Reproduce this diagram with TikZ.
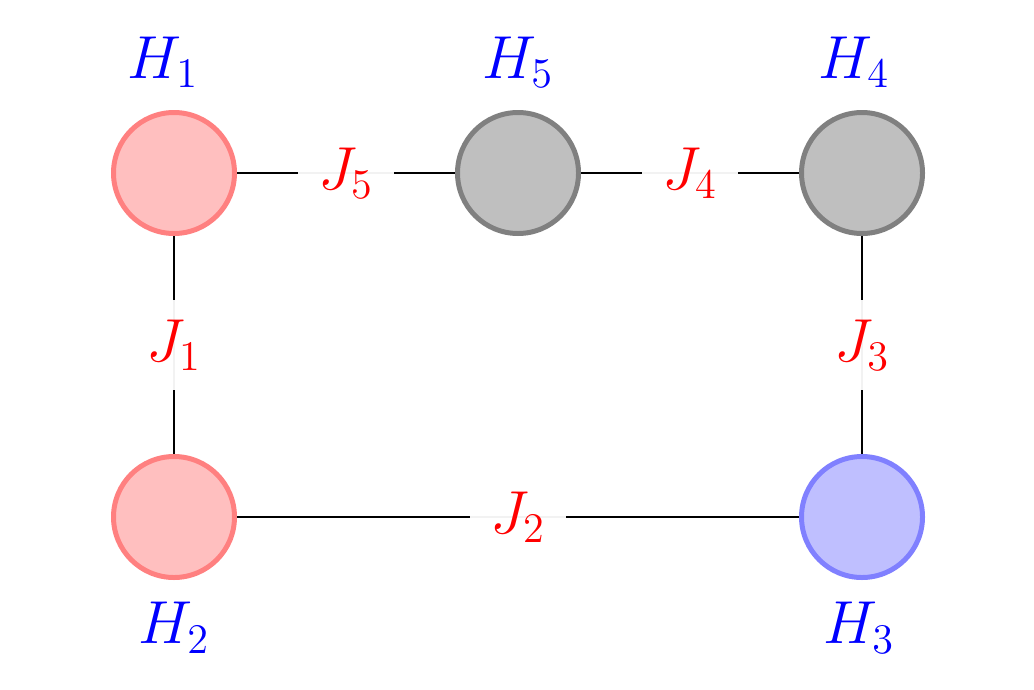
\documentclass[tikz,border=0pt]{standalone}
\usetikzlibrary{positioning}
\tikzset{
  site/.style={circle, minimum size=1.21cm, line width=1.42pt, inner sep=0pt},
  redsite/.style={site, draw=red!50, fill=red!25},
  graysite/.style={site, draw=gray, fill=gray!50},
  bluesite/.style={site, draw=blue!50, fill=blue!25},
  coupling/.style={fill=white, fill opacity=0.95, text opacity=1, inner sep=0.2cm, text=red, font=\LARGE},
  hlabel/.style={text=blue, font=\LARGE, label distance=0.1cm}
}
\begin{document}
\begin{tikzpicture}[node distance=3.44cm, on grid]
\useasboundingbox (0,0) rectangle (10.34,6.89);

% Sites
\node[redsite, label={[hlabel, xshift=-0.11cm]above:$H_1$}] (h1) at (1.74,5.16) {};
\node[graysite, label={[hlabel]above:$H_5$}] (h5) [right=of h1] {};
\node[graysite, label={[hlabel, xshift=-0.08cm]above:$H_4$}] (h4) [right=of h5] {};
\node[redsite, label={[hlabel]below:$H_2$}] (h2) [below=of h1] {};
\node[bluesite, label={[hlabel, xshift=-0.03cm]below:$H_3$}] (h3) [below=of h4] {};

% Couplings
\draw[line width=0.6pt] (h1) -- node[coupling] {$J_5$} (h5);
\draw[line width=0.6pt] (h5) -- node[coupling] {$J_4$} (h4);
\draw[line width=0.6pt] (h4) -- node[coupling] {$J_3$} (h3);
\draw[line width=0.6pt] (h2) -- node[coupling] {$J_2$} (h3);
\draw[line width=0.6pt] (h1) -- node[coupling] {$J_1$} (h2);

\end{tikzpicture}
\end{document}
